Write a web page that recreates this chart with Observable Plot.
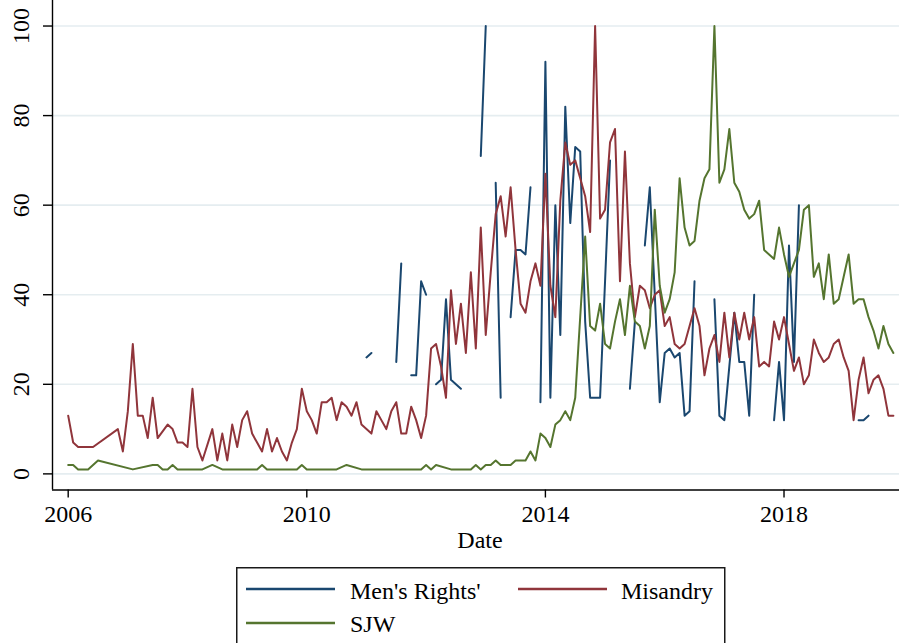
<!DOCTYPE html>
<html>
<head>
<meta charset="utf-8">
<script src="https://cdn.jsdelivr.net/npm/d3@7"></script>
<script src="https://cdn.jsdelivr.net/npm/@observablehq/plot@0.6"></script>
<style>
html, body { margin: 0; padding: 0; background: #fff; overflow: hidden; }
#wrap { position: relative; width: 899px; height: 643px; overflow: hidden; background: #fff; }
#legend { position: absolute; left: 236px; top: 567px; }
</style>
</head>
<body>
<div id="wrap"><div id="chart"></div><div id="legend"></div></div>
<script>
// Monthly series, index 0 = January 2006 (null = no value / not connected)
const startYear = 2006;
const xTicks = [2006, 2010, 2014, 2018];
const yTicks = [0, 20, 40, 60, 80, 100];
const seriesNames = ["Men's Rights'", "Misandry", "SJW"];
const seriesColors = ["#1a476f", "#90353b", "#55752f"];

const misandry = [
  13, 7, 6, 6, 6, 6, null, null, null, null, 10, 5,
  14, 29, 13, 13, 8, 17, 8, null, 11, 10, 7, 7,
  6, 19, 6, 3, null, 10, 3, 9, 3, 11, 6, 12,
  14, 9, 7, 5, 10, 5, 8, 5, 3, 7, 10, 19,
  14, 12, 9, 16, 16, 17, 12, 16, 15, 13, 16, 11,
  10, 9, 14, 12, 10, 14, 16, 9, 9, 15, 12, 8,
  13, 28, 29, 24, 17, 41, 29, 38, 27, 45, 28, 55,
  31, 45, 58, 62, 53, 64, 50, 38, 36, 43, 47, 42,
  67, 42, 35, 61, 74, 69, 70, 66, 62, 54, 100, 57,
  59, 74, 77, 43, 72, 47, 35, 42, 41, 37, 40, 41,
  33, 35, 29, 28, 29, 33, 37, 33, 22, 28, 31, 25,
  36, 26, 36, 30, 36, 30, 35, 24, 25, 24, 34, 30,
  35, 29, 23, 26, 20, 22, 30, 27, 25, 26, 29, 30,
  26, 23, 12, 21, 26, 18, 21, 22, 19, 13, 13
];

const sjw = [
  2, 2, 1, 1, 1, null, 3, null, null, null, null, null,
  null, 1, null, null, null, 2, 2, 1, 1, 2, 1, 1,
  1, 1, 1, 1, null, 2, null, 1, 1, 1, 1, 1,
  1, 1, 1, 2, 1, 1, 1, 1, 1, 1, 1, 2,
  1, 1, 1, 1, 1, 1, 1, null, 2, null, null, 1,
  1, 1, 1, 1, 1, 1, 1, 1, 1, 1, 1, 1,
  2, 1, 2, null, null, 1, 1, 1, 1, 1, 2, 1,
  2, 2, 3, 2, 2, 2, 3, 3, 3, 5, 3, 9,
  8, 6, 11, 12, 14, 12, 17, 35, 53, 33, 32, 38,
  29, 28, 34, 39, 31, 42, 34, 33, 28, 33, 59, 42,
  36, 39, 45, 66, 55, 51, 52, 61, 66, 68, 100, 65,
  68, 77, 65, 63, 59, 57, 58, 61, 50, 49, 48, 55,
  49, 44, 47, 50, 59, 60, 44, 47, 39, 49, 38, 39,
  44, 49, 38, 39, 39, 35, 32, 28, 33, 29, 27
];

const mensRights = [
  null, null, null, null, null, null, null, null, null, null, null, null,
  null, null, null, null, null, null, null, null, null, null, null, null,
  null, null, null, null, null, null, null, null, null, null, null, null,
  null, null, null, null, null, null, null, null, null, null, null, null,
  null, null, null, null, null, null, null, null, null, null, null, null,
  26, 27, null, null, null, null, 25, 47, null, 22, 22, 43,
  40, null, 20, 21, 39, 21, 20, 19, null, null, null, 71,
  100, null, 65, 17, null, 35, 50, 50, 49, 64, null, 16,
  92, 17, 60, 31, 82, 56, 73, 72, 34, 17, 17, 17,
  43, 70, null, null, null, 19, 34, null, 51, 64, 40, 16,
  27, 28, 26, 27, 13, 14, 43, null, null, null, 39, 13,
  12, 24, 36, 25, 25, 13, 40, null, null, null, 12, 25,
  12, 51, 25, 60, null, null, null, null, null, null, null, null,
  null, null, null, 12, 12, 13, null, null, null, null, null
];

const toRows = (arr, keepGaps) => {
  const rows = arr.map((v, i) => ({t: startYear + i / 12, v: v == null ? NaN : v}));
  return keepGaps ? rows : rows.filter(d => !isNaN(d.v));
};

const W = 899, H = 567;
const xDomain = [2005.737, 2019.936];
const yDomain = [-3.6, 105.7];
const gridColor = "#e5edf0";

const chart = Plot.plot({
  width: W,
  height: H,
  marginLeft: 52,
  marginRight: 0,
  marginTop: 0,
  marginBottom: 77.5,
  style: {fontFamily: "'Liberation Serif', 'Times New Roman', serif", fontSize: "24px", background: "#fff", overflow: "visible"},
  x: {domain: xDomain, label: null},
  y: {domain: yDomain, label: null},
  marks: [
    Plot.ruleY(yTicks, {stroke: gridColor, strokeWidth: 1.6}),
    Plot.line(toRows(mensRights, true), {x: "t", y: "v", stroke: seriesColors[0], strokeWidth: 2}),
    Plot.line(toRows(misandry, false), {x: "t", y: "v", stroke: seriesColors[1], strokeWidth: 2}),
    Plot.line(toRows(sjw, false), {x: "t", y: "v", stroke: seriesColors[2], strokeWidth: 2}),
    Plot.ruleX([xDomain[0]], {stroke: "#000", strokeWidth: 1.4}),
    Plot.ruleY([yDomain[0]], {stroke: "#000", strokeWidth: 1.4}),
    Plot.axisX({ticks: xTicks, tickFormat: d => String(d), tickSize: 8, tickPadding: 7, strokeWidth: 1.4, fontSize: 24, label: null}),
    Plot.axisY({ticks: yTicks, tickFormat: () => "", tickSize: 9, strokeWidth: 1.4, label: null}),
    Plot.text(yTicks, {y: d => d, text: d => String(d), frameAnchor: "left", dx: -24, rotate: -90, textAnchor: "middle", lineAnchor: "bottom", fontSize: 24, fill: "#000"}),
    Plot.text(["Date"], {frameAnchor: "bottom", dx: 4, dy: 58, lineAnchor: "bottom", fontSize: 24, fill: "#000"})
  ]
});
document.getElementById("chart").appendChild(chart);

// Legend (below the plot)
const lg = d3.select("#legend").append("svg")
  .attr("width", 490).attr("height", 76)
  .style("display", "block")
  .style("font-family", "'Liberation Serif', 'Times New Roman', serif")
  .style("font-size", "24px");
lg.append("rect").attr("x", 0.75).attr("y", 0.75).attr("width", 488).attr("height", 120)
  .attr("fill", "#fff").attr("stroke", "#1a1a1a").attr("stroke-width", 1.5);
const legendPos = [
  {lx: 10, ly: 22, tx: 114, ty: 32},
  {lx: 282, ly: 22, tx: 385, ty: 32},
  {lx: 10, ly: 56, tx: 114, ty: 65}
];
seriesNames.forEach((name, i) => {
  const p = legendPos[i];
  lg.append("line").attr("x1", p.lx).attr("x2", p.lx + 89).attr("y1", p.ly).attr("y2", p.ly)
    .attr("stroke", seriesColors[i]).attr("stroke-width", 2.6);
  lg.append("text").attr("x", p.tx).attr("y", p.ty).attr("fill", "#000").text(name);
});
</script>
</body>
</html>
